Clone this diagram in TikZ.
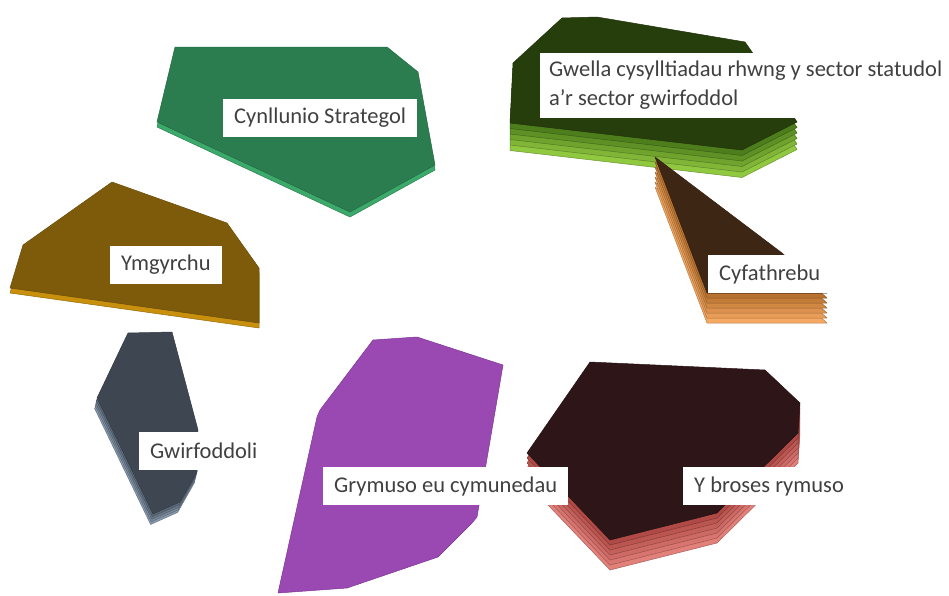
\documentclass[tikz,border=0pt]{standalone}
\usepackage{fontspec}
\setmainfont{Carlito}
\definecolor{txt}{HTML}{404040}
\definecolor{cynTop}{HTML}{2B7D50}
\definecolor{cynLay}{HTML}{3BAA6B}
\definecolor{ymgTop}{HTML}{7D5B0B}
\definecolor{ymgLay}{HTML}{C8900C}
\definecolor{gwiTop}{HTML}{3E4652}
\definecolor{gwiLayA}{HTML}{8A9CB0}
\definecolor{gwiLayB}{HTML}{5C6A7A}
\definecolor{gryTop}{HTML}{9B49B2}
\definecolor{gryEdge}{HTML}{7E3593}
\definecolor{ybrTop}{HTML}{2E1517}
\definecolor{ybrLayA}{HTML}{E2807A}
\definecolor{ybrLayB}{HTML}{B04A46}
\definecolor{gweTop}{HTML}{263D0C}
\definecolor{gweLayA}{HTML}{90C840}
\definecolor{gweLayB}{HTML}{4E7E1C}
\definecolor{cyfTop}{HTML}{3E2614}
\definecolor{cyfLayA}{HTML}{F4A862}
\definecolor{cyfLayB}{HTML}{B8722F}
% #1 path, #2 layers, #3 dx, #4 dy, #5 light (bottom), #6 dark (top)
\newcommand\mystack[6]{%
  \foreach \k in {#2,...,1}{%
    \pgfmathtruncatemacro\pp{100*(#2-\k)/max(#2-1,1)}%
    \filldraw[shift={(#3*\k,#4*\k)}, fill=#6!\pp!#5, draw=#6!\pp!#5!75!black, line width=0.5pt, line join=round] #1;
  }}
\def\pCyn{(175,47)--(387,47)--(418,72)--(435,165)--(350,212)--(157,122)--cycle}
\def\pYmg{(112,182)--(227,223)--(259,268)--(259,323)--(10,288)--(23,245)--cycle}
\def\pGwi{(128,333)--(172,332)--(198,430)--(197,472)--(180,502)--(153,514)--(97,398)--cycle}
\def\pGry{(373,340)--(417,337)--(503,365)--(477,517)--(472,523)--(438,557)--(347,588)--(278,593)--(317,417)--(320,410)--cycle}
\def\pYbr{(590,362)--(765,370)--(800,403)--(798,433)--(717,513)--(610,540)--(527,453)--cycle}
\def\pGwe{(562,18)--(597,17)--(745,42)--(752,52)--(797,122)--(742,150)--(510,123)--(513,63)--cycle}
\def\pCyf{(655,157)--(782,253)--(827,293)--(707,293)--cycle}
\tikzset{
  lbl/.style={fill=white, text=txt, font=\fontsize{22.5}{26}\selectfont, inner xsep=11pt, inner ysep=0pt, minimum height=38pt, anchor=west, align=left},
  topface/.style={line width=0.5pt, line join=round}
}
\begin{document}
\begin{tikzpicture}[x=1pt,y=-1pt]
\useasboundingbox[fill=white] (0,0) rectangle (949,595);
% Cynllunio Strategol
\mystack{\pCyn}{1}{0}{5}{cynLay}{cynLay}
\filldraw[topface, fill=cynTop, draw=cynTop!85!black] \pCyn;
% Ymgyrchu
\mystack{\pYmg}{1}{0}{5}{ymgLay}{ymgLay}
\filldraw[topface, fill=ymgTop, draw=ymgTop!85!black] \pYmg;
% Gwirfoddoli
\mystack{\pGwi}{4}{-0.6}{2.6}{gwiLayA}{gwiLayB}
\filldraw[topface, fill=gwiTop, draw=gwiTop!85!black] \pGwi;
% Grymuso
\filldraw[topface, fill=gryTop, draw=gryEdge] \pGry;
% Y broses rymuso
\mystack{\pYbr}{6}{0}{5}{ybrLayA}{ybrLayB}
\filldraw[topface, fill=ybrTop, draw=ybrTop!85!black] \pYbr;
% Gwella
\mystack{\pGwe}{5}{0}{5.5}{gweLayA}{gweLayB}
\filldraw[topface, fill=gweTop, draw=gweTop!85!black] \pGwe;
% Cyfathrebu
\mystack{\pCyf}{6}{0}{5}{cyfLayA}{cyfLayB}
\filldraw[topface, fill=cyfTop, draw=cyfTop!85!black] \pCyf;
% labels
\node[lbl] (cyn) at (223,117.5) {Cynllunio Strategol};
\node[lbl] (ymg) at (110,264.5) {Ymgyrchu};
\node[lbl] (gwi) at (139,450.5) {Gwirfoddoli};
\node[lbl] (gry) at (323,486) {Grymuso eu cymunedau};
\node[lbl] (ybr) at (683,486) {Y broses rymuso};
\node[lbl] (cyf) at (708,274) {Cyfathrebu};
\node[lbl, minimum height=65pt, inner xsep=9pt, font=\fontsize{22.5}{29}\selectfont] (gwe) at (540,85.5) {Gwella cysylltiadau rhwng y sector statudol\\a’r sector gwirfoddol};
\end{tikzpicture}
\end{document}
